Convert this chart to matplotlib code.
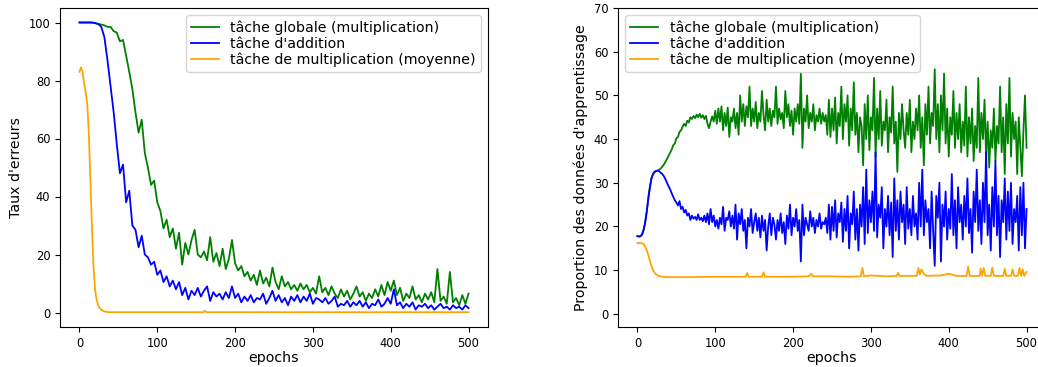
import numpy as np
import matplotlib
matplotlib.use("Agg")
import matplotlib.pyplot as plt

# ---------------- data ----------------
labels = ["tâche globale (multiplication)", "tâche d'addition",
          "tâche de multiplication (moyenne)"]
colors = ["green", "blue", "orange"]

# Left panel: error rate, epochs 0..500 step 4
err_epochs = np.arange(0, 501, 4)
err_global = [
    100, 100, 100, 100, 100, 99.8, 99.5, 99.3, 99.0, 98.5,
    98.5, 97.0, 96.5, 93.5, 94.0, 88.5, 83.0, 77.0, 69.0, 62.0,
    66.5, 55.0, 50.0, 44.0, 45.5, 38.0, 35.0, 29.0, 32.0, 26.0,
    29.0, 22.0, 27.5, 16.5, 24.0, 20.0, 25.0, 28.5, 20.0, 19.0,
    21.0, 18.0, 26.0, 17.5, 20.5, 16.0, 22.0, 15.0, 18.5, 25.0,
    17.0, 14.5, 16.0, 12.5, 14.0, 11.0, 13.0, 9.5, 14.5, 10.0,
    12.0, 9.0, 15.5, 10.5, 8.0, 12.5, 9.0, 10.5, 8.0, 9.5,
    7.5, 10.0, 8.0, 9.5, 7.0, 8.5, 6.5, 12.5, 7.0, 8.5,
    6.0, 9.0, 6.5, 5.0, 8.0, 5.5, 7.5, 4.5, 6.5, 9.0,
    5.5, 7.0, 4.0, 6.5, 5.0, 8.0, 5.5, 9.5, 6.0, 10.5,
    7.5, 11.0, 6.0, 8.5, 4.0, 6.5, 5.0, 9.0, 4.5, 6.0,
    3.5, 6.5, 4.5, 7.0, 3.5, 15.0, 4.0, 5.5, 3.0, 14.0,
    3.5, 5.0, 2.5, 6.0, 3.0, 6.5,
]
err_add = [
    100, 100, 100, 100, 100, 99.8, 99.5, 98.5, 95.0, 87.0,
    78.0, 69.0, 58.0, 48.0, 51.0, 38.0, 42.0, 30.0, 28.5, 22.5,
    26.5, 20.0, 19.0, 16.5, 17.5, 13.0, 14.5, 10.5, 12.5, 9.0,
    11.0, 8.0, 10.5, 6.0, 8.5, 4.5, 7.5, 6.0, 8.5, 5.5,
    7.5, 9.0, 4.0, 7.0, 5.5, 6.5, 4.5, 7.0, 5.0, 9.0,
    5.0, 6.5, 3.5, 5.5, 4.0, 6.0, 3.5, 5.0, 4.5, 6.5,
    3.0, 5.0, 7.5, 4.0, 6.0, 3.5, 5.0, 2.5, 5.5, 4.0,
    6.0, 3.5, 5.5, 4.0, 6.5, 3.0, 5.0, 4.5, 3.5, 5.0,
    3.0, 4.0, 5.5, 2.0, 3.0, 2.5, 4.0, 2.0, 3.5, 2.5,
    4.0, 2.0, 3.5, 1.5, 3.0, 2.5, 4.5, 2.0, 3.0, 5.0,
    3.0, 8.0, 2.5, 3.5, 1.5, 3.0, 2.0, 3.5, 1.0, 2.5,
    2.0, 3.0, 1.5, 2.5, 1.0, 2.0, 3.0, 1.5, 2.0, 1.0,
    2.5, 1.5, 2.0, 1.0, 2.5, 1.5,
]
err_mult_epochs = [0, 2, 4, 6, 8, 10, 12, 14, 16, 18, 20, 22, 24, 26, 28,
                   31, 35, 40, 80, 159, 161, 163, 200, 300, 400, 500]
err_mult = [83, 84.5, 83, 79, 76, 72, 62, 46, 30, 16, 8, 4.5, 2.5, 1.5, 1.0,
            0.5, 0.2, 0.1, 0.1, 0.1, 0.6, 0.1, 0.1, 0.1, 0.1, 0.1]

# Right panel: proportion of training data, epochs 0..500 step 2
prop_epochs = np.arange(0, 501, 2)
prop_global = [
    17.8, 17.7, 17.8, 18.2, 19.3, 21.0, 23.5, 26.5, 29.0, 31.0,
    32.0, 32.5, 32.7, 32.8, 33.0, 33.3, 33.7, 34.2, 34.8, 35.5,
    36.2, 36.9, 37.6, 38.6, 39.0, 40.2, 40.5, 41.6, 42.0, 42.8,
    43.5, 43.0, 44.2, 43.8, 45.0, 44.6, 45.3, 44.8, 45.6, 45.0,
    45.8, 44.9, 45.5, 44.6, 45.3, 43.5, 42.5, 44.0, 45.2, 44.0,
    46.5, 43.5, 47.0, 44.0, 47.5, 42.0, 46.0, 43.0, 47.2, 40.5,
    45.0, 44.0, 47.0, 42.5, 46.0, 41.0, 50.0, 44.0, 48.0, 43.0,
    47.5, 45.0, 52.0, 43.0, 47.0, 44.0, 48.5, 42.5, 46.0, 44.0,
    51.0, 45.5, 42.0, 49.0, 44.0, 47.0, 43.0, 46.5, 45.0, 52.0,
    43.5, 47.0, 44.5, 46.0, 42.5, 51.0, 45.0, 48.0, 43.0, 46.5,
    41.0, 47.0, 44.0, 48.0, 43.5, 55.0, 38.0, 47.0, 44.0, 50.0,
    42.5, 46.0, 44.0, 48.0, 42.0, 45.5, 44.0, 47.0, 43.5, 46.0,
    44.0, 45.5, 41.0, 49.0, 40.5, 47.0, 42.0, 49.5, 39.0, 46.0,
    43.0, 52.0, 40.0, 48.0, 44.0, 50.0, 38.5, 47.0, 42.0, 53.0,
    41.0, 46.0, 37.0, 45.0, 43.0, 34.0, 48.0, 40.0, 50.0, 37.5,
    45.0, 42.0, 54.0, 36.0, 47.0, 40.0, 51.0, 38.5, 44.0, 42.0,
    49.0, 37.0, 45.0, 41.5, 52.0, 39.0, 44.0, 32.5, 46.0, 40.0,
    48.0, 42.0, 38.0, 46.0, 41.0, 49.0, 37.0, 44.0, 40.0, 47.0,
    42.0, 50.0, 38.0, 45.0, 34.0, 48.0, 41.0, 52.0, 39.0, 46.0,
    43.0, 56.0, 40.0, 48.0, 37.0, 50.0, 42.0, 55.0, 39.0, 47.0,
    36.0, 45.0, 41.0, 51.0, 38.0, 46.0, 40.0, 48.0, 37.0, 44.0,
    38.5, 52.0, 36.0, 45.0, 39.0, 47.0, 35.0, 43.0, 38.0, 54.0,
    37.0, 46.0, 40.0, 49.0, 36.0, 44.0, 33.5, 42.0, 38.0, 47.0,
    35.0, 43.0, 39.0, 52.0, 37.0, 45.0, 32.0, 48.0, 39.0, 54.0,
    36.0, 46.0, 40.0, 44.0, 32.0, 45.0, 38.0, 31.5, 42.0, 50.0,
    38.0,
]
prop_add = [
    17.8, 17.7, 17.8, 18.2, 19.3, 21.0, 23.5, 26.5, 29.0, 31.0,
    32.0, 32.5, 32.7, 32.8, 32.6, 32.3, 32.0, 31.5, 30.8, 30.0,
    29.2, 28.5, 27.6, 26.8, 26.0, 25.5, 24.8, 25.8, 24.0, 24.5,
    23.2, 23.8, 22.5, 23.0, 21.5, 22.5, 21.8, 22.2, 21.5, 22.8,
    21.5, 22.0, 21.2, 22.5, 21.0, 23.0, 20.5, 24.0, 21.0, 22.5,
    20.0, 21.5, 19.5, 22.0, 20.5, 24.5, 19.0, 22.0, 21.5, 23.5,
    20.0, 22.5, 19.5, 25.0, 17.0, 23.0, 20.5, 24.0, 19.0, 21.5,
    15.0, 22.0, 20.0, 24.0, 18.5, 21.0, 23.0, 19.0, 22.0, 17.5,
    22.5, 19.0, 21.5, 14.5, 20.0, 23.0, 18.0, 22.0, 20.5, 17.0,
    21.5, 19.0, 23.0, 18.5, 21.0, 16.0, 22.5, 19.5, 25.0, 18.0,
    22.0, 20.0, 24.0, 19.0, 21.5, 12.0, 25.0, 18.0, 22.0, 20.5,
    19.0, 23.5, 20.0, 22.0, 18.5, 21.5, 20.0, 23.0, 19.5, 21.0,
    20.5, 22.0, 18.5, 25.0, 17.0, 24.5, 19.0, 26.0, 17.5, 23.0,
    21.0, 25.5, 16.5, 24.0, 19.0, 27.0, 15.0, 23.0, 20.5, 28.0,
    17.0, 24.0, 14.5, 25.0, 20.0, 29.0, 16.0, 33.0, 18.5, 26.0,
    21.0, 28.0, 19.0, 37.0, 17.5, 25.0, 22.0, 29.0, 15.0, 24.0,
    20.0, 27.0, 18.0, 25.5, 13.0, 31.0, 19.0, 26.0, 17.0, 28.0,
    21.0, 25.0, 16.0, 29.0, 19.5, 24.0, 18.0, 27.0, 20.0, 23.0,
    17.0, 30.0, 20.0, 33.0, 18.0, 26.0, 21.0, 24.0, 15.0, 28.0,
    19.0, 11.0, 27.0, 22.0, 30.0, 12.0, 25.0, 20.0, 28.0, 17.0,
    24.0, 19.5, 32.0, 18.0, 26.0, 15.0, 29.0, 21.0, 25.0, 17.0,
    27.0, 20.0, 31.0, 18.5, 24.0, 14.0, 28.0, 21.0, 33.0, 19.0,
    26.0, 16.0, 30.0, 21.0, 37.0, 18.0, 25.0, 14.5, 29.0, 20.0,
    35.0, 18.0, 27.0, 13.0, 26.0, 21.0, 31.0, 17.0, 28.0, 19.0,
    30.0, 16.0, 24.0, 21.0, 27.0, 14.5, 29.0, 18.0, 30.0, 15.0,
    24.0,
]
prop_mult_epochs = [0, 5, 8, 11, 14, 17, 20, 23, 27, 32,
                    40, 60, 100, 139, 141, 143, 160, 162, 164, 200,
                    220, 223, 226, 250, 270, 287, 289, 291, 300, 320,
                    333, 335, 337, 350, 359, 361, 363, 365, 367, 369,
                    372, 390, 400, 410, 423, 425, 427, 440, 441, 443,
                    445, 447, 454, 456, 458, 470, 472, 474, 480, 482,
                    484, 489, 491, 493, 495, 497, 500]
prop_mult = [16.2, 16.2, 16.0, 15.0, 13.5, 11.5, 10.0, 9.2, 8.7, 8.5,
             8.4, 8.4, 8.5, 8.5, 9.3, 8.5, 8.5, 9.5, 8.5, 8.5,
             8.6, 9.2, 8.6, 8.6, 8.5, 8.6, 10.5, 8.6, 8.8, 8.6,
             8.7, 9.4, 8.7, 8.7, 8.7, 10.5, 9.0, 10.2, 9.5, 9.0,
             8.7, 8.8, 9.2, 8.7, 8.7, 10.8, 8.7, 8.7, 10.4, 8.8,
             10.5, 8.7, 8.7, 10.6, 8.7, 8.7, 10.3, 8.7, 8.7, 10.2,
             8.7, 8.7, 10.5, 8.7, 10.2, 8.7, 9.6]

# ---------------- plot ----------------
W, H = 1038, 367
fig = plt.figure(figsize=(W / 100, H / 100), dpi=100)
ax1 = fig.add_axes([60 / W, 1 - 327 / H, 428 / W, 319 / H])
ax2 = fig.add_axes([618 / W, 1 - 327 / H, 428 / W, 319 / H])

LW = 1.3
FS = 10.2
TFS = 8.3

ax1.plot(err_epochs, err_global, color=colors[0], lw=LW, label=labels[0])
ax1.plot(err_epochs, err_add, color=colors[1], lw=LW, label=labels[1])
ax1.plot(err_mult_epochs, err_mult, color=colors[2], lw=LW, label=labels[2])
ax1.set_ylim(-5, 105)
ax1.set_xlim(-25, 525)
ax1.set_xticks(range(0, 501, 100))
ax1.set_yticks(range(0, 101, 20))
ax1.set_xlabel("epochs", fontsize=FS, labelpad=1)
ax1.set_ylabel("Taux d'erreurs", fontsize=FS)
ax1.tick_params(labelsize=TFS)
ax1.legend(loc="upper right", fontsize=FS, handlelength=2.0,
           borderpad=0.35, labelspacing=0.15)

ax2.plot(prop_epochs, prop_global, color=colors[0], lw=LW, label=labels[0])
ax2.plot(prop_epochs, prop_add, color=colors[1], lw=LW, label=labels[1])
ax2.plot(prop_mult_epochs, prop_mult, color=colors[2], lw=LW, label=labels[2])
ax2.set_ylim(-3, 70)
ax2.set_xlim(-25, 525)
ax2.set_xticks(range(0, 501, 100))
ax2.set_yticks(range(0, 71, 10))
ax2.set_xlabel("epochs", fontsize=FS, labelpad=1)
ax2.set_ylabel("Proportion des données d'apprentissage", fontsize=FS)
ax2.tick_params(labelsize=TFS)
ax2.legend(loc="upper left", fontsize=FS, handlelength=2.0,
           borderpad=0.35, labelspacing=0.15)

fig.savefig("out.png", dpi=100)
